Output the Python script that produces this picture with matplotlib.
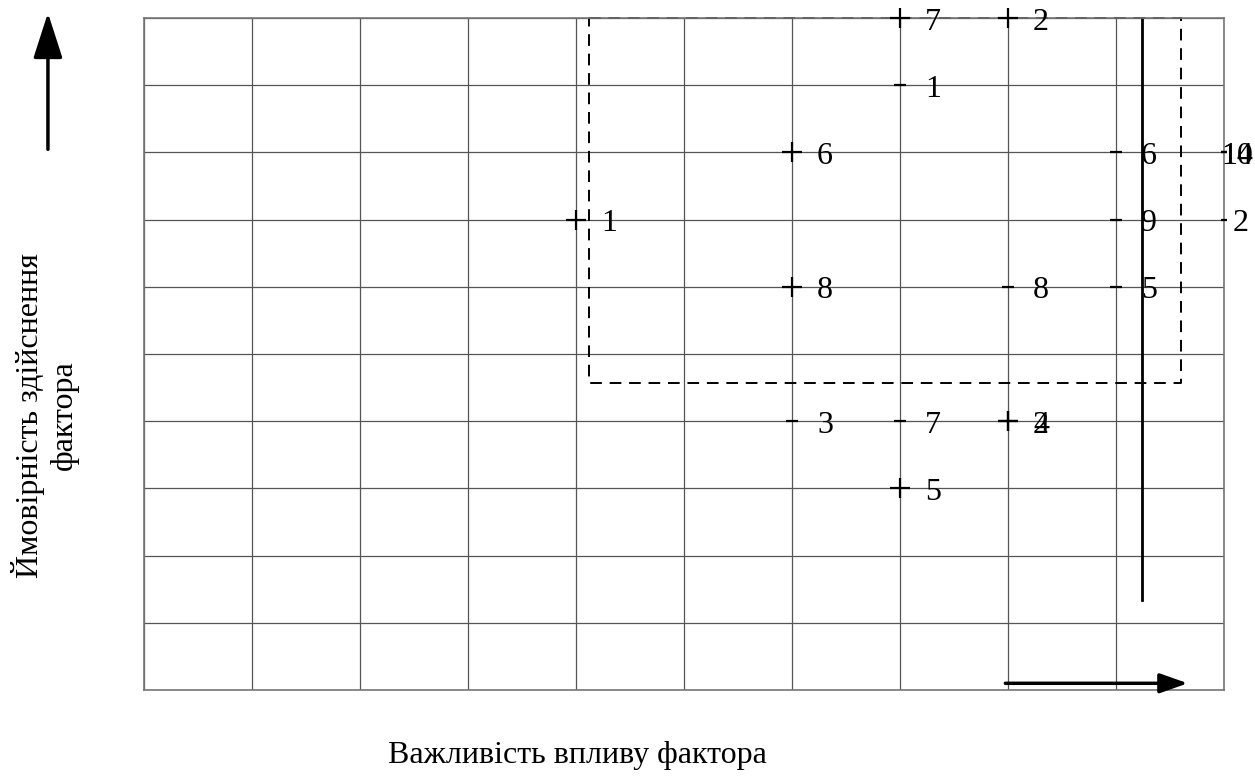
import matplotlib.pyplot as plt
import matplotlib as mpl

mpl.rcParams['font.family'] = ['Liberation Serif', 'DejaVu Serif']

# точки матриці: важливість (x), ймовірність (y), номер фактора
xs = [7, 8, 7, 6, 9, 10, 10, 4, 9, 10, 6, 8, 9, 6, 7, 8, 8, 7]
ys = [10, 10, 9, 8, 8, 8, 8, 7, 7, 7, 6, 6, 6, 4, 4, 4, 4, 3]
labels = ['7', '2', '1', '6', '6', '10', '14', '1', '9', '2',
          '8', '8', '5', '3', '7', '2', '4', '5']

# тип позначки для кожної точки
marks = ['+', '+', '_', '+', '_', '_', '_', '+', '_', '_',
         '+', '_', '_', '_', '_', '+', '+', '+']

fig = plt.figure(figsize=(12.55, 7.76), dpi=100)
ax = fig.add_axes([0.1147, 0.1108, 0.8606, 0.866])

ax.set_xlim(0, 10)
ax.set_ylim(0, 10)
ax.set_xticks(range(11))
ax.set_yticks(range(11))
ax.tick_params(length=0, labelbottom=False, labelleft=False)
ax.grid(True, color='#555555', linewidth=0.9)
for s in ax.spines.values():
    s.set_color('#777777')
    s.set_linewidth(1.2)

for x, y, t, m in zip(xs, ys, labels, marks):
    ms = 14 if m == '+' else 9
    dx = 18
    if x == 10:
        ms = 5
        dx = -2 if t != '2' else 6
    ax.plot(x, y, marker=m, color='black', markersize=ms,
            markeredgewidth=1.6, clip_on=False, zorder=3)
    ax.annotate(t, (x, y), xytext=(dx, -3), textcoords='offset points',
                ha='left', va='center', fontsize=23, annotation_clip=False)

# пунктирний прямокутник
ax.plot([4.12, 9.6, 9.6, 4.12, 4.12], [10, 10, 4.57, 4.57, 10],
        '--', color='black', linewidth=1.4, dashes=(6, 4), clip_on=False)

# вертикальна лінія
ax.plot([9.24, 9.24], [1.34, 10], color='black', linewidth=2, clip_on=False)

# стрілка вздовж осі x
ax.annotate('', xy=(9.69, 0.1), xytext=(7.95, 0.1),
            arrowprops=dict(arrowstyle='-|>,head_length=1.7,head_width=0.6',
                            color='black', lw=2.5))

# стрілка вздовж осі y (поза графіком)
fig.add_artist(mpl.patches.FancyArrowPatch(
    (0.0382, 0.804), (0.0382, 0.987), transform=fig.transFigure,
    arrowstyle='-|>,head_length=28,head_width=9', color='black', lw=2.5))

fig.text(0.036, 0.465, 'Ймовірність здійснення\nфактора', rotation=90,
         ha='center', va='center', multialignment='center', fontsize=23)
fig.text(0.46, 0.027, 'Важливість впливу фактора', ha='center', va='center',
         fontsize=23)

fig.savefig('out.png', dpi=100)
